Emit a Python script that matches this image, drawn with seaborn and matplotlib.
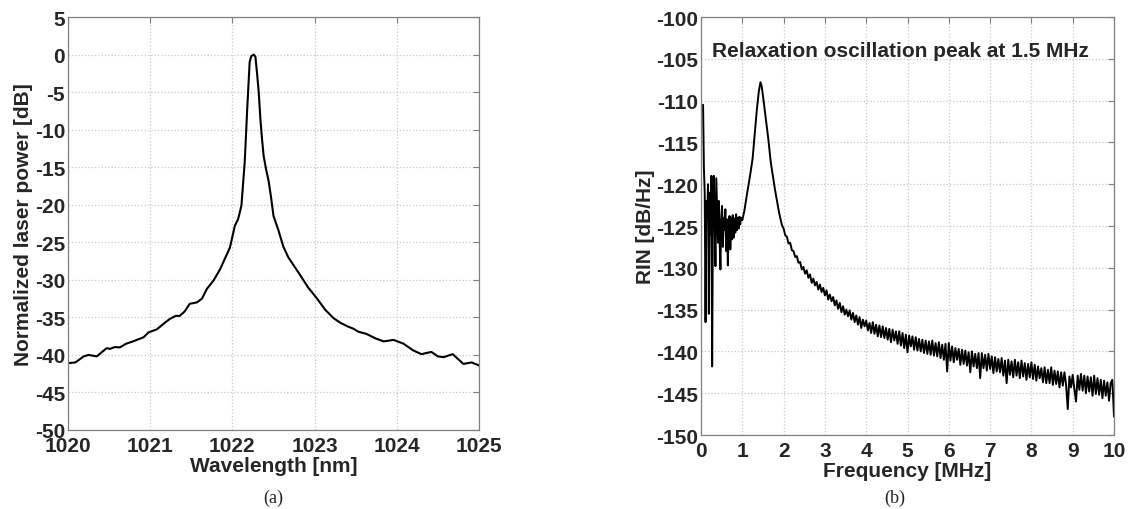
import numpy as np
import pandas as pd
import seaborn as sns
import matplotlib.pyplot as plt

# (a) laser spectrum
wavelength = [1020.00, 1020.09, 1020.19, 1020.25, 1020.35, 1020.47, 1020.51, 1020.57, 1020.63, 1020.71,
              1020.79, 1020.92, 1020.98, 1021.08, 1021.18, 1021.24, 1021.31, 1021.36, 1021.42, 1021.48,
              1021.57, 1021.63, 1021.69, 1021.77, 1021.85, 1021.97, 1022.03, 1022.07, 1022.11, 1022.15,
              1022.18, 1022.21, 1022.23, 1022.26, 1022.28, 1022.30, 1022.32, 1022.34, 1022.36, 1022.38,
              1022.41, 1022.44, 1022.47, 1022.50, 1022.56, 1022.62, 1022.68, 1022.82, 1022.92, 1023.03,
              1023.13, 1023.23, 1023.31, 1023.40, 1023.47, 1023.53, 1023.63, 1023.74, 1023.84, 1023.96,
              1024.08, 1024.20, 1024.30, 1024.42, 1024.50, 1024.57, 1024.68, 1024.81, 1024.91, 1025.00]
power_db = [-41.1, -41.0, -40.2, -40.0, -40.2, -39.1, -39.2, -38.95, -39.0, -38.5,
            -38.2, -37.65, -37.0, -36.6, -35.7, -35.2, -34.8, -34.8, -34.2, -33.2,
            -33.0, -32.5, -31.2, -30.1, -28.6, -25.7, -22.8, -21.9, -20.1, -14.3,
            -7.3, -1.0, -0.2, 0.0, -0.3, -2.5, -5.0, -8.5, -11.2, -13.5,
            -15.3, -16.8, -19.0, -21.5, -23.4, -25.6, -27.0, -29.3, -31.0, -32.5,
            -34.0, -35.1, -35.7, -36.2, -36.5, -36.9, -37.2, -37.8, -38.2, -38.0,
            -38.5, -39.4, -39.9, -39.6, -40.2, -40.3, -39.9, -41.2, -41.0, -41.4]

# (b) RIN spectrum: noisy low-frequency part
freq_low = [0.05, 0.07, 0.09, 0.11, 0.13, 0.15, 0.17, 0.19, 0.21, 0.23,
            0.25, 0.27, 0.29, 0.31, 0.33, 0.35, 0.37, 0.39, 0.41, 0.43,
            0.45, 0.47, 0.49, 0.51, 0.53, 0.55, 0.57, 0.59, 0.61, 0.63,
            0.65, 0.67, 0.69, 0.71, 0.73, 0.75, 0.77, 0.79, 0.81, 0.83,
            0.85, 0.87, 0.89, 0.91, 0.93, 0.95, 0.97]
rin_low = [-110.5, -118.0, -121.0, -136.5, -122.0, -124.0, -120.0, -135.5, -121.0, -126.0,
           -119.0, -141.8, -122.0, -119.0, -124.0, -129.8, -119.3, -123.0, -127.0, -122.0,
           -126.5, -130.2, -124.0, -122.6, -127.5, -124.0, -125.5, -123.0, -128.0, -124.2,
           -129.7, -125.3, -123.8, -127.8, -124.0, -126.6, -123.7, -126.4, -124.1, -125.8,
           -123.6, -125.5, -124.0, -125.3, -123.9, -124.8, -124.0]

# relaxation oscillation peak
freq_peak = [1.00, 1.05, 1.10, 1.15, 1.20, 1.25, 1.30, 1.35, 1.40, 1.44,
             1.47, 1.51, 1.57, 1.63, 1.69, 1.79, 1.89, 1.96]
rin_peak = [-124.3, -123.2, -121.6, -120.1, -118.6, -116.9, -114.0, -111.2, -108.9, -107.8,
            -108.3, -109.8, -112.2, -114.6, -117.4, -120.6, -123.4, -124.9]

# tail from 2 to 10 MHz, every 0.04 MHz
rin_tail = [-125.3, -126.1, -126.3, -127.1, -127.0, -127.9, -128.0, -128.7, -128.6, -129.4,
            -129.3, -130.2, -129.9, -130.7, -130.3, -131.2, -130.8, -131.8, -131.3, -132.1,
            -131.7, -132.6, -132.0, -132.9, -132.4, -133.3, -132.7, -133.8, -133.2, -134.0,
            -133.5, -134.5, -133.9, -134.9, -134.2, -135.3, -134.6, -135.6, -135.0, -135.8,
            -135.1, -136.2, -135.4, -136.5, -135.7, -136.8, -135.9, -137.2, -136.2, -137.0,
            -136.3, -137.5, -136.6, -137.8, -136.5, -137.9, -136.8, -138.2, -136.9, -138.3,
            -137.0, -138.4, -137.2, -138.6, -137.3, -138.9, -137.4, -138.7, -137.6, -139.1,
            -137.6, -139.3, -137.8, -139.6, -138.0, -140.1, -138.1, -139.4, -138.2, -139.8,
            -138.3, -139.9, -138.5, -140.0, -138.6, -140.2, -138.7, -140.3, -138.8, -140.4,
            -138.7, -140.5, -139.0, -140.6, -138.9, -140.8, -139.2, -141.0, -139.1, -142.4,
            -139.0, -141.1, -139.4, -141.3, -139.6, -141.0, -139.7, -141.6, -139.8, -141.5,
            -139.9, -141.7, -140.1, -142.5, -140.0, -141.8, -140.3, -142.0, -140.2, -143.2,
            -140.2, -142.0, -140.4, -142.3, -140.3, -142.1, -140.6, -142.6, -140.7, -142.4,
            -140.9, -142.5, -140.8, -142.9, -141.1, -143.8, -141.0, -142.8, -141.2, -143.1,
            -141.0, -142.9, -141.3, -143.2, -141.1, -143.0, -141.4, -143.4, -141.5, -143.1,
            -141.3, -143.3, -141.6, -143.5, -141.8, -143.2, -142.0, -143.7, -141.9, -143.8,
            -142.2, -143.8, -141.9, -144.0, -142.3, -143.9, -142.4, -144.3, -142.5, -144.1,
            -142.5, -144.0, -146.9, -143.0, -144.3, -142.8, -144.5, -146.0, -142.9, -144.6,
            -142.7, -144.7, -142.9, -145.0, -143.0, -144.8, -143.1, -145.3, -142.9, -145.1,
            -143.2, -145.2, -143.4, -145.6, -143.5, -145.3, -143.7, -145.9, -143.8, -143.4,
            -147.8]
freq_tail = np.linspace(2.0, 10.0, len(rin_tail))

spec = pd.DataFrame({"wl": wavelength, "p": power_db})
rin = pd.DataFrame({
    "f": np.concatenate([freq_low, freq_peak, freq_tail]),
    "rin": np.concatenate([rin_low, rin_peak, rin_tail]),
})

sns.set_theme(style="whitegrid")
plt.rcParams["font.family"] = ["Liberation Sans", "DejaVu Sans"]
plt.rcParams["axes.unicode_minus"] = False

fig = plt.figure(figsize=(11.28, 5.10), dpi=100)
ax1 = fig.add_axes([68 / 1128, 1 - 431 / 510, 411 / 1128, 413 / 510])
ax2 = fig.add_axes([701 / 1128, 1 - 436 / 510, 413 / 1128, 418 / 510])

sns.lineplot(data=spec, x="wl", y="p", ax=ax1, color="black", linewidth=1.5,
             estimator=None, sort=False)
sns.lineplot(data=rin, x="f", y="rin", ax=ax2, color="black", linewidth=1.4,
             estimator=None, sort=False)


def matlab_style(ax, xticks, yticks):
    ax.set_xlim(xticks[0], xticks[-1])
    ax.set_ylim(yticks[0], yticks[-1])
    ax.set_xticks(xticks)
    ax.set_yticks(yticks)
    ax.set_facecolor("white")
    ax.grid(True, linestyle=":", color="#c8c8c8", linewidth=0.9)
    for s in ax.spines.values():
        s.set_color("#808080")
        s.set_linewidth(0.9)
        s.set_visible(True)
    ax.tick_params(direction="in", top=True, right=True, length=4, width=0.8,
                   color="#808080", labelsize=15)
    ax.tick_params(axis="x", pad=4)
    ax.tick_params(axis="y", pad=2)
    for lab in ax.get_xticklabels() + ax.get_yticklabels():
        lab.set_fontweight("bold")


matlab_style(ax1, list(range(1020, 1026)), list(range(-50, 6, 5)))
matlab_style(ax2, list(range(0, 11)), list(range(-150, -99, 5)))

ax1.set_xlabel("Wavelength [nm]", fontsize=15, fontweight="bold", labelpad=1)
ax1.set_ylabel("Normalized laser power [dB]", fontsize=15, fontweight="bold", labelpad=1)
ax2.set_xlabel("Frequency [MHz]", fontsize=15, fontweight="bold", labelpad=1)
ax2.set_ylabel("RIN [dB/Hz]", fontsize=15, fontweight="bold", labelpad=1)

ax2.text(0.026, 0.919, "Relaxation oscillation peak at 1.5 MHz", transform=ax2.transAxes,
         fontsize=15, fontweight="bold", ha="left", va="center")

fig.text(273 / 1128, 1 - 498 / 510, "(a)", family="Liberation Serif", fontsize=13,
         ha="center", va="center")
fig.text(895 / 1128, 1 - 498 / 510, "(b)", family="Liberation Serif", fontsize=13,
         ha="center", va="center")

fig.savefig("out.png", dpi=100, facecolor="white")
